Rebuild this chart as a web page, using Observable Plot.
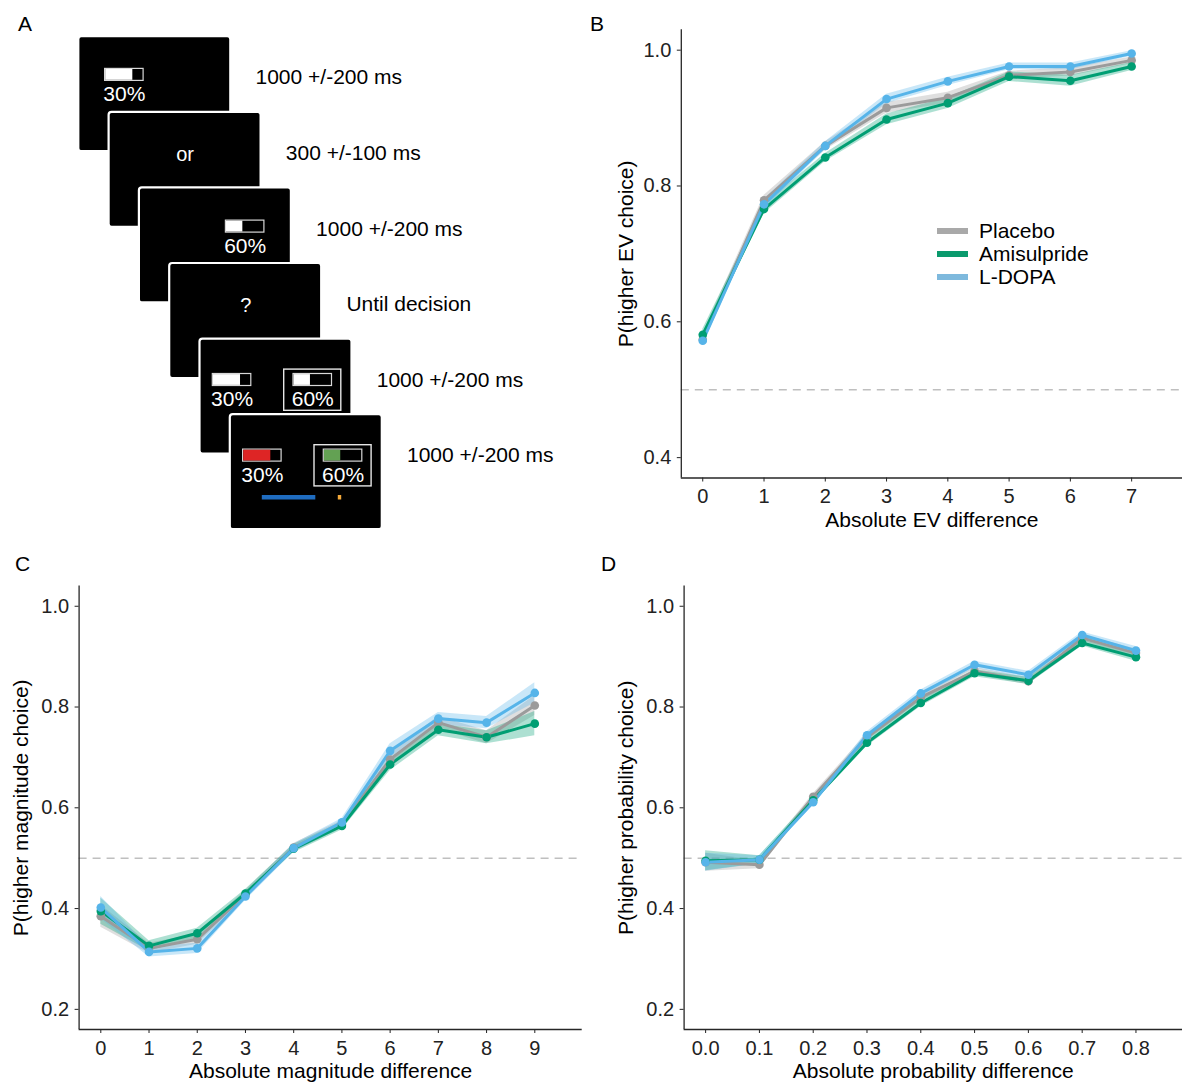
<!DOCTYPE html>
<html>
<head>
<meta charset="utf-8">
<script src="https://cdn.jsdelivr.net/npm/d3@7"></script>
<script src="https://cdn.jsdelivr.net/npm/@observablehq/plot@0.6"></script>
<style>
  html, body { margin: 0; padding: 0; background: white; }
  #root { position: relative; width: 1182px; height: 1082px; overflow: hidden; font-family: "Liberation Sans", Arial, sans-serif; }
  .panel { position: absolute; }
  .letter { position: absolute; font-size: 21px; line-height: 21px; color: #000; }
  .legend { position: absolute; font-size: 21px; color: #000; }
  .legend .row { display: flex; align-items: center; height: 23.3px; }
  .legend .key { width: 31px; height: 6px; margin-right: 11px; }
</style>
</head>
<body>
<div id="root"></div>
<script>
// ---------------- DATA ----------------
const seriesNames = ["Placebo", "Amisulpride", "L-DOPA"];

// Panel A: task schematic
const durations = ["1000 +/-200 ms", "300 +/-100 ms", "1000 +/-200 ms", "Until decision", "1000 +/-200 ms", "1000 +/-200 ms"];
const screenSymbols = [null, "or", null, "?", null, null];
const optionLabels = ["30%", "60%"];
const optionFill = [0.72, 0.44];

// Panel B: Absolute EV difference
const bX = [0, 1, 2, 3, 4, 5, 6, 7];
const bPlacebo     = [0.574, 0.779, 0.859, 0.915, 0.930, 0.963, 0.968, 0.985];
const bAmisulpride = [0.581, 0.766, 0.842, 0.898, 0.922, 0.961, 0.955, 0.976];
const bLdopa       = [0.572, 0.773, 0.859, 0.928, 0.954, 0.976, 0.976, 0.995];
const bPlaceboSE     = [0.008, 0.007, 0.006, 0.008, 0.008, 0.006, 0.006, 0.005];
const bAmisulprideSE = [0.008, 0.007, 0.006, 0.008, 0.008, 0.007, 0.008, 0.006];
const bLdopaSE       = [0.007, 0.007, 0.006, 0.007, 0.006, 0.005, 0.005, 0.004];

// Panel C: Absolute magnitude difference
const cX = [0, 1, 2, 3, 4, 5, 6, 7, 8, 9];
const cPlacebo     = [0.385, 0.321, 0.339, 0.428, 0.521, 0.567, 0.696, 0.769, 0.740, 0.803];
const cAmisulpride = [0.395, 0.326, 0.351, 0.430, 0.519, 0.564, 0.686, 0.755, 0.740, 0.767];
const cLdopa       = [0.402, 0.314, 0.321, 0.424, 0.520, 0.571, 0.713, 0.777, 0.769, 0.828];
const cPlaceboSE     = [0.022, 0.010, 0.010, 0.008, 0.008, 0.008, 0.012, 0.012, 0.013, 0.020];
const cAmisulprideSE = [0.026, 0.010, 0.010, 0.008, 0.008, 0.008, 0.012, 0.012, 0.013, 0.024];
const cLdopaSE       = [0.022, 0.010, 0.010, 0.008, 0.008, 0.008, 0.014, 0.012, 0.012, 0.020];

// Panel D: Absolute probability difference
const dX = [0.0, 0.1, 0.2, 0.3, 0.4, 0.5, 0.6, 0.7, 0.8];
const dPlacebo     = [0.492, 0.487, 0.622, 0.740, 0.819, 0.871, 0.851, 0.937, 0.907];
const dAmisulpride = [0.495, 0.497, 0.615, 0.729, 0.808, 0.867, 0.852, 0.927, 0.899];
const dLdopa       = [0.492, 0.497, 0.611, 0.744, 0.827, 0.884, 0.864, 0.943, 0.912];
const dPlaceboSE     = [0.018, 0.008, 0.006, 0.007, 0.007, 0.007, 0.007, 0.006, 0.008];
const dAmisulprideSE = [0.020, 0.008, 0.006, 0.007, 0.007, 0.007, 0.007, 0.006, 0.008];
const dLdopaSE       = [0.018, 0.008, 0.006, 0.007, 0.007, 0.007, 0.007, 0.006, 0.008];

// ---------------- STYLES ----------------
const FONT = '"Liberation Sans", Arial, Helvetica, sans-serif';
const lineColors = ["#9b9b9b", "#009E73", "#56B4E9"];
const legendColors = ["#a9a9a9", "#0a9a6d", "#7eb9dd"];
const outcomeColors = ["#de2525", "#63a153"];
const rtColor = "#1f6cc0";
const dotColor = "#f4a93a";

const root = document.getElementById("root");
function place(node, left, top) {
  const div = document.createElement("div");
  div.className = "panel";
  div.style.left = left + "px";
  div.style.top = top + "px";
  div.appendChild(node);
  root.appendChild(div);
}
function letter(t, left, top) {
  const d = document.createElement("div");
  d.className = "letter";
  d.textContent = t;
  d.style.left = left + "px";
  d.style.top = top + "px";
  root.appendChild(d);
}

// ---------------- PANEL A ----------------
{
  const X0 = 78.3, Y0 = 36.2, DX = 30.3, DY = 75.6, W = 152, H = 115;
  const screens = durations.map((label, i) => ({i, label, sym: screenSymbols[i], x: X0 + i * DX, y: Y0 + i * DY}));
  const placements = [
    {s: 0, o: 0, slot: "soloL"},
    {s: 2, o: 1, slot: "soloR"},
    {s: 4, o: 0, slot: "L"},
    {s: 4, o: 1, slot: "R", boxed: true},
    {s: 5, o: 0, slot: "L", outcome: true},
    {s: 5, o: 1, slot: "R", boxed: true, outcome: true}
  ];
  const slotX = {soloL: 26.3, soloR: 86.5, L: 12.8, R: 93.5};
  const slotY = {soloL: 32.2, soloR: 32.7, L: 34.9, R: 34.9};
  const BW = 38.5, BH = 12;
  const opts = placements.map(p => {
    const sc = screens[p.s];
    const bx = sc.x + slotX[p.slot], by = sc.y + slotY[p.slot];
    return {
      ...p, bx, by, label: optionLabels[p.o], frac: optionFill[p.o],
      fillColor: p.outcome ? outcomeColors[p.o] : "white"
    };
  });
  const boxes = opts.filter(d => d.boxed);
  const fb = screens.filter(d => d.i === 5);

  const A = Plot.plot({
    width: 590, height: 540, margin: 0,
    x: {domain: [0, 590], range: [0, 590], axis: null},
    y: {domain: [0, 540], range: [0, 540], axis: null},
    style: {fontFamily: FONT, background: "white", overflow: "visible"},
    marks: [
      Plot.rect(screens, {x1: "x", x2: d => d.x + W, y1: "y", y2: d => d.y + H, fill: "black", stroke: "white", strokeWidth: 2.2, rx: 3}),
      Plot.text(screens, {x: d => d.x + W + 24.7, y: d => d.y + 41, text: "label", textAnchor: "start", lineAnchor: "middle", fontSize: 21, fill: "black"}),
      Plot.text(screens.filter(d => d.sym), {x: d => d.x + 76, y: d => d.y + 42, text: "sym", lineAnchor: "middle", fontSize: 20, fill: "white"}),
      Plot.rect(boxes, {x1: d => d.bx - 9.3, x2: d => d.bx + BW + 9.3, y1: d => d.by - 4.4, y2: d => d.by + 36.8, fill: "none", stroke: "#e6e6e6", strokeWidth: 1.4}),
      Plot.rect(opts, {x1: "bx", x2: d => d.bx + BW, y1: "by", y2: d => d.by + BH, fill: "black", stroke: "#d8d8d8", strokeWidth: 1.2}),
      Plot.rect(opts, {x1: d => d.bx + 0.6, x2: d => d.bx + BW * d.frac, y1: d => d.by + 0.6, y2: d => d.by + BH - 0.6, fill: "fillColor"}),
      Plot.text(opts, {x: d => d.bx + BW / 2, y: d => d.by + 25.5, text: "label", lineAnchor: "middle", fontSize: 21, fill: "white"}),
      Plot.rect(fb, {x1: d => d.x + 32, x2: d => d.x + 85.5, y1: d => d.y + 80.8, y2: d => d.y + 85.3, fill: rtColor}),
      Plot.rect(fb, {x1: d => d.x + 108, x2: d => d.x + 111.4, y1: d => d.y + 80.8, y2: d => d.y + 85.3, fill: dotColor})
    ]
  });
  place(A, 0, 0);
}

// ---------------- CHART PANELS ----------------
function rowsFor(xs, vals, ses) {
  const rows = [];
  vals.forEach((v, k) => v.forEach((y, i) => rows.push({s: seriesNames[k], x: xs[i], y, lo: y - ses[k][i], hi: y + ses[k][i]})));
  return rows;
}

function chart(o) {
  const rows = rowsFor(o.xs, o.vals, o.ses);
  return Plot.plot({
    width: o.width, height: o.height,
    marginLeft: o.mL, marginRight: o.mR, marginTop: o.mT, marginBottom: o.mB,
    style: {fontFamily: FONT, fontSize: "20px", color: "#222", background: "white", overflow: "visible"},
    x: {domain: o.xDomain, ticks: o.xs, tickFormat: o.xFmt, tickSize: 4, tickPadding: 7, label: null},
    y: {domain: o.yDomain, ticks: o.yTicks, tickFormat: ".1f", tickSize: 4, tickPadding: 6, label: null},
    color: {domain: seriesNames, range: lineColors},
    marks: [
      Plot.ruleY([0.5], {stroke: "#bfbfbf", strokeWidth: 1.4, strokeDasharray: "8,6"}),
      Plot.areaY(rows, {x: "x", y1: "lo", y2: "hi", z: "s", fill: "s", fillOpacity: 0.32}),
      Plot.line(rows, {x: "x", y: "y", z: "s", stroke: "s", strokeWidth: 3}),
      Plot.dot(rows, {x: "x", y: "y", fill: "s", r: 4.3}),
      Plot.ruleX([o.xDomain[0]], {stroke: "#262626", strokeWidth: 1.3}),
      Plot.ruleY([o.yDomain[0]], {stroke: "#262626", strokeWidth: 1.3}),
      Plot.text([o.xLabel], {text: d => d, frameAnchor: "bottom", textAnchor: "middle", lineAnchor: "middle", dy: o.xLabelDy, fontSize: 21, fill: "black"}),
      Plot.text([o.yLabel], {text: d => d, frameAnchor: "left", textAnchor: "middle", lineAnchor: "middle", dx: o.yLabelDx, rotate: -90, fontSize: 21, fill: "black"})
    ]
  });
}

const B = chart({
  xs: bX, vals: [bPlacebo, bAmisulpride, bLdopa], ses: [bPlaceboSE, bAmisulprideSE, bLdopaSE],
  width: 592, height: 540, mL: 90.8, mR: 0, mT: 29.3, mB: 62.5,
  xDomain: [-0.35, 7.83], yDomain: [0.37, 1.03], yTicks: [0.4, 0.6, 0.8, 1.0], xFmt: "d",
  xLabel: "Absolute EV difference", yLabel: "P(higher EV choice)", xLabelDy: 42.5, yLabelDx: -55
});
place(B, 590, 0);

const C = chart({
  xs: cX, vals: [cPlacebo, cAmisulpride, cLdopa], ses: [cPlaceboSE, cAmisulprideSE, cLdopaSE],
  width: 590, height: 532, mL: 78.6, mR: 8.3, mT: 35.6, mB: 53,
  xDomain: [-0.45, 9.983], yDomain: [0.16, 1.04], yTicks: [0.2, 0.4, 0.6, 0.8, 1.0], xFmt: "d",
  xLabel: "Absolute magnitude difference", yLabel: "P(higher magnitude choice)", xLabelDy: 41.5, yLabelDx: -57.5
});
place(C, 0, 550);

const D = chart({
  xs: dX, vals: [dPlacebo, dAmisulpride, dLdopa], ses: [dPlaceboSE, dAmisulprideSE, dLdopaSE],
  width: 592, height: 532, mL: 93.6, mR: 0, mT: 35.6, mB: 53,
  xDomain: [-0.04, 0.8865], yDomain: [0.16, 1.04], yTicks: [0.2, 0.4, 0.6, 0.8, 1.0], xFmt: ".1f",
  xLabel: "Absolute probability difference", yLabel: "P(higher probability choice)", xLabelDy: 41.5, yLabelDx: -57.7
});
place(D, 590, 550);

// Legend (panel B)
{
  const lg = document.createElement("div");
  lg.className = "legend";
  lg.style.left = "937px";
  lg.style.top = "219px";
  seriesNames.forEach((name, k) => {
    const row = document.createElement("div");
    row.className = "row";
    const key = document.createElement("span");
    key.className = "key";
    key.style.background = legendColors[k];
    const t = document.createElement("span");
    t.textContent = name;
    row.appendChild(key); row.appendChild(t);
    lg.appendChild(row);
  });
  root.appendChild(lg);
}

letter("A", 18, 12.5);
letter("B", 590, 12.5);
letter("C", 15, 552.7);
letter("D", 601, 553);
</script>
</body>
</html>
